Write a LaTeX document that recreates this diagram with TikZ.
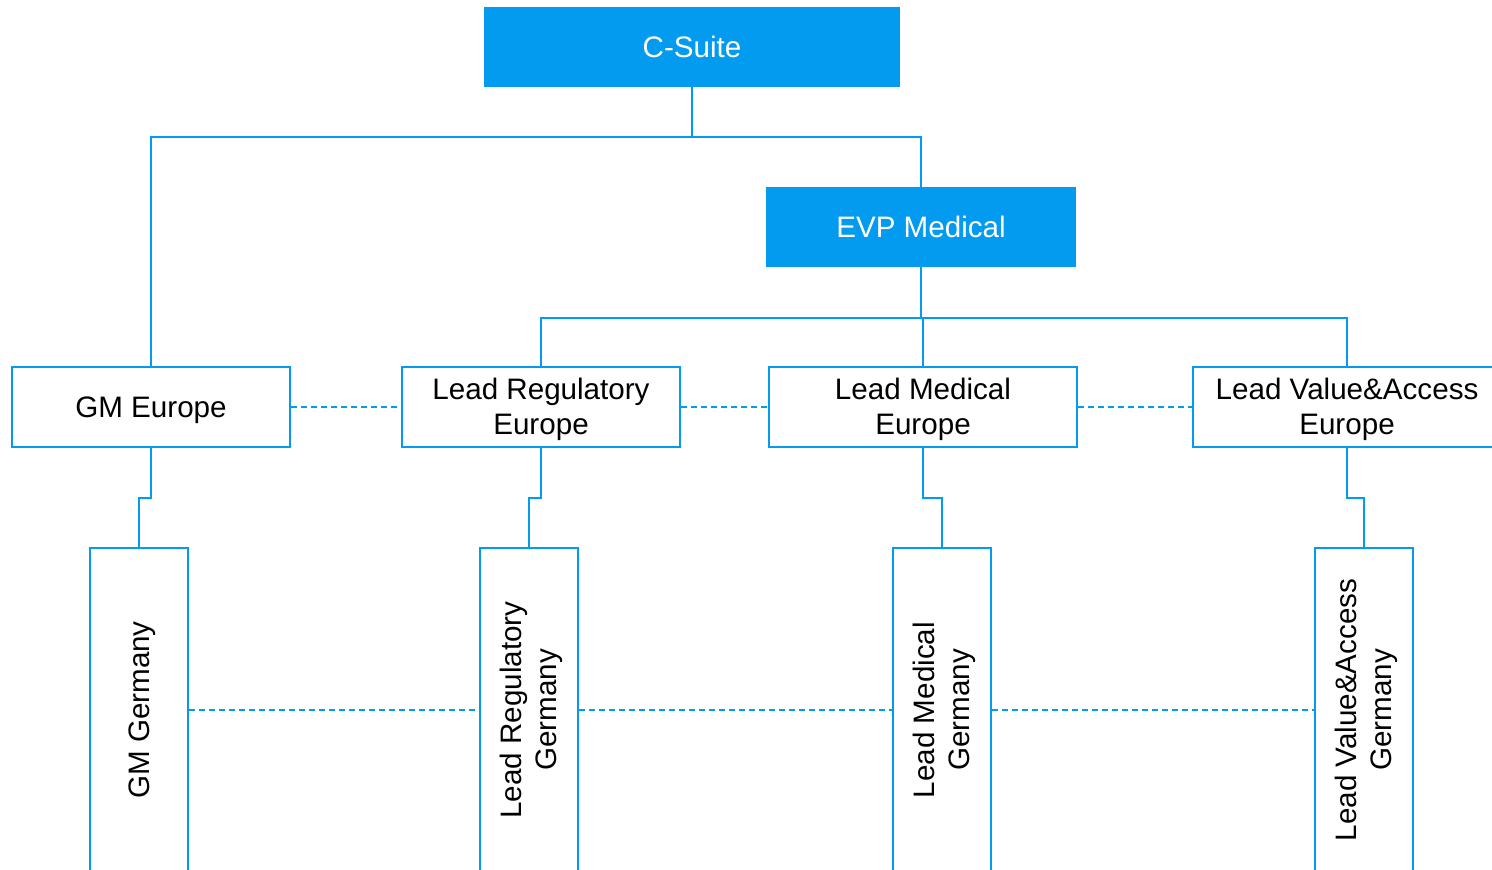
\documentclass[tikz,border=0pt]{standalone}
\usepackage{fontspec}
\setmainfont{Liberation Sans}
\definecolor{cblue}{HTML}{039BEF}
\newcommand\bx[1]{\raisebox{-2.25pt}[\height][\depth]{\begin{tabular}{@{}c@{}}#1\end{tabular}}}
\begin{document}
\begin{tikzpicture}[x=0.75pt,y=-0.75pt,
  every node/.style={font=\fontsize{22.2}{26.5}\selectfont, align=center, inner sep=0pt},
  topbox/.style={fill=cblue, text=white, minimum height=60pt},
  midbox/.style={draw=cblue, line width=1.5pt, fill=white, minimum height=60pt},
  lowbox/.style={draw=cblue, line width=1.5pt, fill=white, rotate=90, minimum width=243pt, minimum height=73.5pt},
  link/.style={draw=cblue, line width=1.5pt},
  dlink/.style={draw=cblue, line width=1.5pt, dash pattern=on 4.5pt off 3pt}]
\useasboundingbox (0,0) rectangle (1492,870);
\clip (0,0) rectangle (1492,869);
% nodes
\node[topbox, minimum width=312pt] (cs) at (692,47) {\bx{C-Suite}};
\node[topbox, minimum width=232.5pt] (evp) at (921,227) {\bx{EVP Medical}};
\node[midbox, minimum width=208.5pt] (gme) at (151,407) {\bx{GM Europe}};
\node[midbox, minimum width=208.5pt] (lre) at (541,407) {\bx{Lead Regulatory\\Europe}};
\node[midbox, minimum width=231pt] (lme) at (923,407) {\bx{Lead Medical\\Europe}};
\node[midbox, minimum width=231pt] (lve) at (1347,407) {\bx{Lead Value\&Access\\Europe}};
\node[lowbox] (gmg) at (139,710) {\bx{GM Germany}};
\node[lowbox] (lrg) at (529,710) {\bx{Lead Regulatory\\Germany}};
\node[lowbox] (lmg) at (942,710) {\bx{Lead Medical\\Germany}};
\node[lowbox] (lvg) at (1364,710) {\bx{Lead Value\&Access\\Germany}};
% connectors
\path[link] (cs.south) -- ++(0,50) -| (gme.north);
\path[link] (cs.south) -- ++(0,50) -| (evp.north);
\path[link] (evp.south) -- ++(0,51) -| (lre.north);
\path[link] (evp.south) -- ++(0,51) -| (lme.north);
\path[link] (evp.south) -- ++(0,51) -| (lve.north);
\path[link] (gme.south) -- ++(0,50) -| (gmg.east);
\path[link] (lre.south) -- ++(0,50) -| (lrg.east);
\path[link] (lme.south) -- ++(0,50) -| (lmg.east);
\path[link] (lve.south) -- ++(0,50) -| (lvg.east);
\path[dlink] (gme.east) -- (lre.west);
\path[dlink] (lre.east) -- (lme.west);
\path[dlink] (lme.east) -- (lve.west);
\path[dlink] (gmg.south) -- (lrg.north);
\path[dlink] (lrg.south) -- (lmg.north);
\path[dlink] (lmg.south) -- (lvg.north);
\end{tikzpicture}
\end{document}
